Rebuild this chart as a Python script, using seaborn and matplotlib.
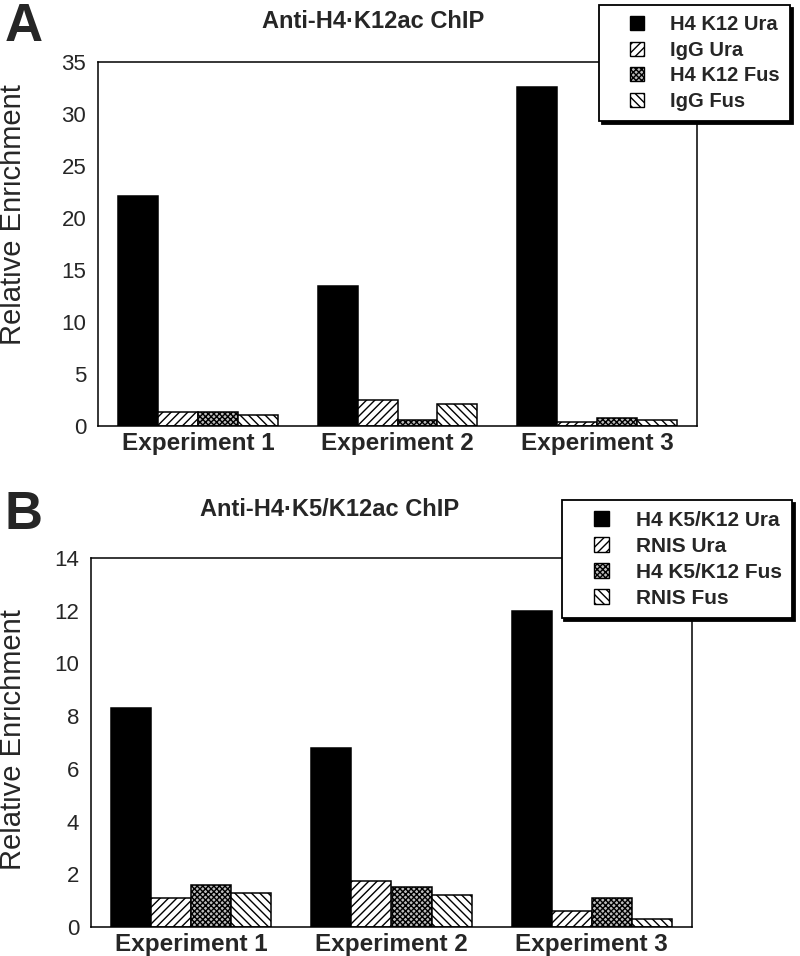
import pandas as pd
import matplotlib
matplotlib.use('Agg')
import matplotlib.pyplot as plt
import matplotlib.patches as mpatches
from matplotlib.legend_handler import HandlerPatch
import seaborn as sns

experiments = ['Experiment 1', 'Experiment 2', 'Experiment 3']

# panel A: anti-H4 K12ac ChIP
samples_a = ['H4 K12 Ura', 'IgG Ura', 'H4 K12 Fus', 'IgG Fus']
h4k12_ura = [22.1, 13.5, 32.6]
igg_ura = [1.3, 2.5, 0.4]
h4k12_fus = [1.3, 0.6, 0.8]
igg_fus = [1.1, 2.1, 0.6]

# panel B: anti-H4 K5/K12ac ChIP
samples_b = ['H4 K5/K12 Ura', 'RNIS Ura', 'H4 K5/K12 Fus', 'RNIS Fus']
h4k5k12_ura = [8.3, 6.8, 12.0]
rnis_ura = [1.1, 1.75, 0.6]
h4k5k12_fus = [1.6, 1.5, 1.1]
rnis_fus = [1.3, 1.2, 0.3]

colors = ['black', 'white', '#bcbcbc', 'white']
hatches = [None, '////', 'xxxxxx', '\\\\\\\\']

sns.set_style('white')
plt.rcParams['font.family'] = ['Liberation Sans', 'DejaVu Sans']
plt.rcParams['hatch.linewidth'] = 1.0


def long_frame(samples, series):
    rows = []
    for s, vals in zip(samples, series):
        for e, v in zip(experiments, vals):
            rows.append({'Experiment': e, 'Sample': s, 'Value': v})
    return pd.DataFrame(rows)


def square(legend, orig_handle, xdescent, ydescent, width, height, fontsize):
    size = 0.7 * fontsize
    return mpatches.Rectangle((width - size - xdescent, -ydescent + (height - size) / 2),
                              size, size)


def panel(ax, samples, series, ymax, step, legend_anchor, fsize):
    df = long_frame(samples, series)
    sns.barplot(data=df, x='Experiment', y='Value', hue='Sample', hue_order=samples,
                palette=colors, edgecolor='black', linewidth=1.1, saturation=1,
                legend=False, ax=ax)
    for cont, h in zip(ax.containers, hatches):
        for bar in cont:
            if h:
                bar.set_hatch(h)
    ax.set_ylim(0, ymax)
    ax.set_yticks(range(0, ymax + 1, step))
    ax.set_xlim(-0.5, 2.5)
    ax.set_xlabel('')
    ax.set_ylabel('')
    for sp in ax.spines.values():
        sp.set_linewidth(1.1)
        sp.set_color('black')
    ax.tick_params(axis='y', direction='inout', length=9, width=1.1, labelsize=16, pad=4)
    ax.tick_params(axis='x', length=0, labelsize=17.5, pad=4)
    for t in ax.get_xticklabels():
        t.set_fontweight('bold')

    handles = [mpatches.Patch(facecolor=c, edgecolor='black', hatch=h, linewidth=1)
               for c, h in zip(colors, hatches)]
    leg = ax.legend(handles, samples, loc='upper right', bbox_to_anchor=legend_anchor,
                    bbox_transform=ax.figure.transFigure, frameon=True, fancybox=False,
                    edgecolor='black', framealpha=1, shadow={'color': 'black', 'alpha': 1},
                    prop={'weight': 'bold', 'size': fsize}, handlelength=1.75,
                    handleheight=0.8, handletextpad=1.3, labelspacing=0.33, borderpad=0.5,
                    borderaxespad=0,
                    handler_map={mpatches.Patch: HandlerPatch(patch_func=square)})
    leg.get_frame().set_linewidth(1.3)
    leg.set_zorder(10)


fig = plt.figure(figsize=(8, 9.56), dpi=100)

ax_a = fig.add_axes([98 / 800, 1 - 426 / 956, 599 / 800, 364 / 956])
panel(ax_a, samples_a, [h4k12_ura, igg_ura, h4k12_fus, igg_fus], 35, 5,
      (790 / 800, 1 - 5 / 956), 14.5)

ax_b = fig.add_axes([91 / 800, 1 - 927 / 956, 601 / 800, 369 / 956])
panel(ax_b, samples_b, [h4k5k12_ura, rnis_ura, h4k5k12_fus, rnis_fus], 14, 2,
      (792 / 800, 1 - 500 / 956), 15)

fig.text(5 / 800, 1 - 2 / 956, 'A', fontsize=38, fontweight='bold', va='top', ha='left')
fig.text(5 / 800, 1 - 490 / 956, 'B', fontsize=38, fontweight='bold', va='top', ha='left')
fig.text(262 / 800, 1 - 22 / 956, 'Anti-H4\u00b7K12ac ChIP', fontsize=17,
         fontweight='bold', va='center', ha='left')
fig.text(200 / 800, 1 - 510 / 956, 'Anti-H4\u00b7K5/K12ac ChIP', fontsize=17,
         fontweight='bold', va='center', ha='left')
fig.text(13 / 800, 1 - 215 / 956, 'Relative Enrichment', fontsize=21, rotation=90,
         va='center', ha='center')
fig.text(13 / 800, 1 - 740 / 956, 'Relative Enrichment', fontsize=21, rotation=90,
         va='center', ha='center')

fig.savefig('out.png', dpi=100)
